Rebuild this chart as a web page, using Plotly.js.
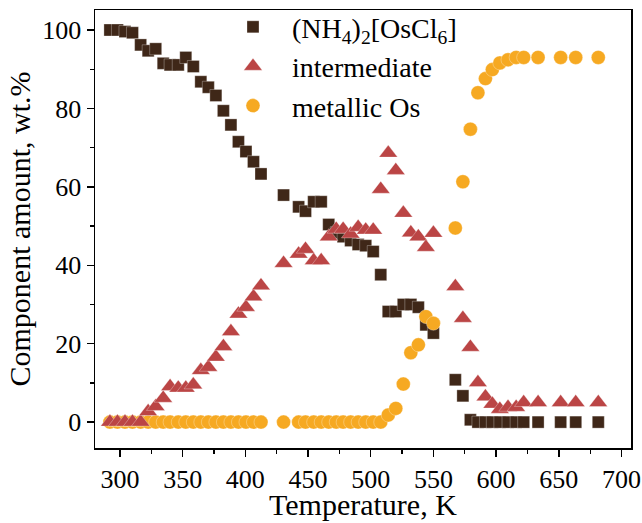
<!DOCTYPE html>
<html>
<head>
<meta charset="utf-8">
<script src="https://cdn.plot.ly/plotly-3.0.1.min.js"></script>
<style>html,body{margin:0;padding:0;background:#fff;}#chart{width:642px;height:523px;}</style>
</head>
<body>
<div id="chart"></div>
<script>
// Temperatures, K (shared by all three series)
const temperature = [
  292, 298, 304, 310, 316.5, 322.5, 328.5, 334.5, 340, 346.5, 352.5, 358.5, 364.5, 370.5, 376.5, 382.5, 388.5, 394.5, 400.5, 406.5, 412.5,
  430.5, 442.5, 448, 454.5, 460.5, 466.5, 472.5, 478, 484, 490, 496, 502, 508, 514, 520, 526, 532, 538, 544, 550,
  567.5, 573.5, 579.5, 585.5, 591.5, 597, 603, 609.5, 616, 622, 633.5, 651.5, 663.5, 681.5
];
// (NH4)2[OsCl6], wt.%
const precursor = [
  100, 100, 99.6, 99.3, 96.2, 94.7, 95.2, 91.5, 91.1, 91.1, 93, 90.7, 86.8, 85.4, 83.3, 79.4, 75.8, 71.5, 69, 66.4, 63.3,
  57.9, 54.9, 53.8, 56.2, 56.2, 50.4, 48.3, 47.3, 46.3, 45.3, 45, 43.5, 37.6, 28.2, 28.2, 30, 30, 29.3, 24.8, 22.7,
  10.8, 6.7, 0.6, 0, 0, 0, 0, 0, 0, 0, 0, 0, 0, 0
];
// intermediate, wt.%
const intermediate = [
  0, 0, 0, 0, 0, 2.7, 4.0, 6.1, 9.1, 8.7, 8.7, 9.5, 13.2, 14, 16.6, 19.3, 23.1, 27.6, 29.3, 32, 34.8,
  40.5, 42.9, 44.1, 41.2, 41.2, 47.3, 49.2, 49.2, 48, 49.7, 49, 49, 59.4, 68.6, 64.2, 53.3, 48.3, 47.3, 44.6, 48.2,
  34.6, 26.5, 19.1, 10.1, 6.5, 4.6, 3.3, 3.8, 3.8, 5, 5, 5, 5, 5
];
// metallic Os, wt.%
const metallicOs = [
  0, 0, 0, 0, 0, 0, 0, 0, 0, 0, 0, 0, 0, 0, 0, 0, 0, 0, 0, 0, 0,
  0, 0, 0, 0, 0, 0, 0, 0, 0, 0, 0, 0, 0, 1.8, 3.5, 9.7, 17.7, 19.7, 26.9, 25.2,
  49.5, 61.3, 74.7, 84, 87.6, 89.9, 91.6, 92.4, 93, 93, 93, 93, 93, 93
];
const seriesNames = ['(NH<sub>4</sub>)<sub>2</sub>[OsCl<sub>6</sub>]', 'intermediate', 'metallic Os'];
const xTickVals = [300, 350, 400, 450, 500, 550, 600, 650, 700];
const yTickVals = [0, 20, 40, 60, 80, 100];
const xTitle = 'Temperature, K';
const yTitle = 'Component amount, wt.%';

const FONT = 'Liberation Serif, Times New Roman, serif';
const outline = {color: 'rgba(255,255,255,0.5)', width: 0.6};

const traces = [
  {x: temperature, y: precursor, name: seriesNames[0], type: 'scatter', mode: 'markers',
   legendgroup: 'a', legendrank: 1,
   marker: {symbol: 'square', size: 12, color: '#3f2718', line: outline}},
  {x: temperature, y: metallicOs, name: seriesNames[2], type: 'scatter', mode: 'markers',
   legendgroup: 'c', legendrank: 3,
   marker: {symbol: 'circle', size: 14, color: '#f6a922', line: outline}},
  {x: temperature, y: intermediate, name: seriesNames[1], type: 'scatter', mode: 'markers',
   legendgroup: 'b', legendrank: 2,
   marker: {symbol: 'triangle-up', size: 16, color: '#bb4545', line: outline}}
];

const axisCommon = {
  showline: true, linecolor: '#000', linewidth: 1.5, mirror: true,
  ticks: 'outside', ticklen: 7, tickwidth: 1.5, tickcolor: '#000',
  showgrid: false, zeroline: false, ticklabeloverflow: 'allow',
  tickfont: {family: FONT, size: 26, color: '#000'}
};

const layout = {
  width: 642, height: 523,
  margin: {l: 95, r: 11, t: 10, b: 75, autoexpand: false},
  paper_bgcolor: '#fff', plot_bgcolor: '#fff',
  font: {family: FONT, color: '#000'},
  showlegend: true,
  legend: {
    x: 0.222, y: 1.018, xanchor: 'left', yanchor: 'top',
    bgcolor: 'rgba(0,0,0,0)', borderwidth: 0,
    font: {family: FONT, size: 28, color: '#000'},
    itemwidth: 68, tracegroupgap: 3,
    traceorder: 'normal'
  },
  xaxis: Object.assign({}, axisCommon, {
    range: [280.1, 707.6], tickvals: xTickVals,
    minor: {dtick: 25, tick0: 0, ticks: 'outside', ticklen: 4, tickwidth: 1.2, tickcolor: '#000'}
  }),
  yaxis: Object.assign({}, axisCommon, {
    range: [-6.6, 105.1], tickvals: yTickVals,
    minor: {dtick: 10, tick0: 0, ticks: 'outside', ticklen: 4, tickwidth: 1.2, tickcolor: '#000'},
    title: {text: yTitle, font: {family: FONT, size: 30, color: '#000'}, standoff: 3}
  }),
  annotations: [
    {text: xTitle, xref: 'paper', yref: 'paper', x: 0.5, y: -0.13,
     xanchor: 'center', yanchor: 'middle', showarrow: false,
     font: {family: FONT, size: 30, color: '#000'}}
  ]
};

Plotly.newPlot('chart', traces, layout, {displayModeBar: false, staticPlot: true});
</script>
</body>
</html>
